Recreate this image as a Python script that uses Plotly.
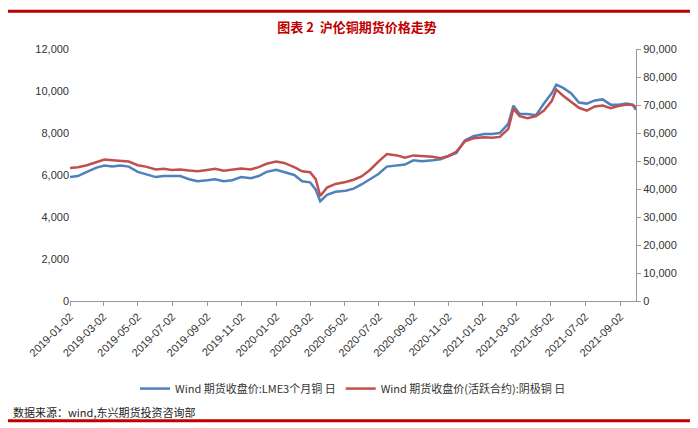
import plotly.graph_objects as go

dates = ["2019-01-02","2019-01-16","2019-02-01","2019-02-18","2019-03-04","2019-03-18","2019-04-01","2019-04-16","2019-05-02","2019-05-16","2019-06-03","2019-06-17","2019-07-01","2019-07-16","2019-08-01","2019-08-16","2019-09-02","2019-09-16","2019-10-01","2019-10-16","2019-11-01","2019-11-18","2019-12-02","2019-12-16","2020-01-02","2020-01-16","2020-02-03","2020-02-17","2020-03-02","2020-03-12","2020-03-20","2020-04-01","2020-04-16","2020-05-04","2020-05-18","2020-06-01","2020-06-16","2020-07-01","2020-07-16","2020-08-03","2020-08-17","2020-09-01","2020-09-16","2020-10-05","2020-10-19","2020-11-02","2020-11-16","2020-12-01","2020-12-16","2021-01-04","2021-01-18","2021-02-01","2021-02-16","2021-02-25","2021-03-08","2021-03-22","2021-04-06","2021-04-20","2021-05-04","2021-05-12","2021-05-24","2021-06-07","2021-06-21","2021-07-05","2021-07-19","2021-08-02","2021-08-16","2021-08-30","2021-09-13","2021-09-24","2021-09-30"]
lme = [5900,5950,6150,6350,6450,6400,6450,6400,6150,6050,5900,5950,5950,5950,5800,5700,5750,5800,5700,5750,5900,5850,5950,6150,6250,6150,6000,5700,5650,5300,4750,5050,5200,5250,5350,5550,5800,6050,6400,6450,6500,6700,6650,6700,6750,6900,7050,7650,7850,7950,7950,8000,8450,9300,8900,8900,8850,9400,9900,10300,10150,9900,9450,9400,9550,9600,9350,9350,9400,9350,9100]
shfe = [47500,47800,48500,49500,50500,50300,50000,49800,48500,48000,47000,47200,46800,47000,46600,46300,46800,47200,46500,47000,47300,47000,47800,49000,49800,49300,47800,46300,46000,43500,37500,40500,41800,42500,43300,44500,46800,49800,52500,52000,51200,52000,51800,51500,51000,51800,53300,57000,58100,58500,58300,58600,61500,68700,66000,65300,66000,68000,71500,75500,73300,71000,69000,68000,69500,69800,68900,69600,70200,70000,69300]
tick_dates = ["2019-01-02","2019-03-02","2019-05-02","2019-07-02","2019-09-02","2019-11-02","2020-01-02","2020-03-02","2020-05-02","2020-07-02","2020-09-02","2020-11-02","2021-01-02","2021-03-02","2021-05-02","2021-07-02","2021-09-02"]
left_ticks = [0,2000,4000,6000,8000,10000,12000]
right_ticks = [0,10000,20000,30000,40000,50000,60000,70000,80000,90000]

fig = go.Figure()
fig.add_trace(go.Scatter(x=dates, y=lme, mode="lines", line=dict(color="#4F81BD", width=2.5),
                         name="Wind 期货收盘价:LME3个月铜 日"))
fig.add_trace(go.Scatter(x=dates, y=shfe, mode="lines", line=dict(color="#C0504D", width=2.5),
                         name="Wind 期货收盘价(活跃合约):阴极铜 日", yaxis="y2"))
fnt = dict(family="Liberation Sans, DejaVu Sans", size=11, color="#333")
fig.update_layout(
    width=698, height=428, margin=dict(l=62, r=70, t=41, b=135, autoexpand=False),
    paper_bgcolor="white", plot_bgcolor="white", font=fnt, showlegend=True,
    title=dict(text="<b>图表 2  沪伦铜期货价格走势</b>", x=0.5, y=0.955, xanchor="center", yanchor="middle",
               font=dict(family="Noto Sans CJK SC", size=13, color="#C00000")),
    xaxis=dict(type="date", tickvals=tick_dates, ticktext=tick_dates, tickangle=-45,
               range=["2019-01-02","2021-09-30"], showline=True, linecolor="#999",
               ticks="outside", ticklen=4, tickcolor="#999", showgrid=False),
    yaxis=dict(range=[0,12000], tickvals=left_ticks, tickformat=",", showgrid=False,
               showline=False, zeroline=False),
    yaxis2=dict(range=[0,90000], tickvals=right_ticks, tickformat=",", overlaying="y",
                side="right", showgrid=False, showline=True, linecolor="#999",
                ticks="outside", ticklen=4, tickcolor="#999", zeroline=False),
    legend=dict(orientation="h", x=0.5, xanchor="center", y=-0.29, yanchor="top",
                font=dict(family="Noto Sans CJK SC", size=11, color="#333")),
    shapes=[dict(type="line", xref="paper", yref="paper", x0=-0.12, x1=1.15, y0=1.15, y1=1.15,
                 line=dict(color="#C00000", width=3)),
            dict(type="line", xref="paper", yref="paper", x0=-0.12, x1=1.15, y0=-0.475, y1=-0.475,
                 line=dict(color="#C00000", width=3))],
    annotations=[dict(text="数据来源：wind,东兴期货投资咨询部", xref="paper", yref="paper",
                      x=-0.105, y=-0.44, xanchor="left", yanchor="middle", showarrow=False,
                      font=dict(family="Noto Sans CJK SC", size=11, color="#222"))],
)
fig.write_html("out.html")
